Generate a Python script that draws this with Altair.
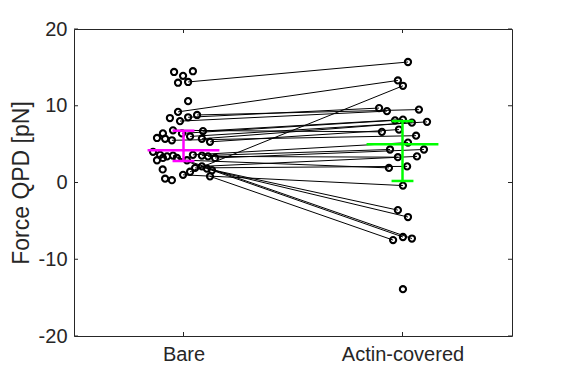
import altair as alt
import pandas as pd

categories = ["Bare", "Actin-covered"]
y_ticks = [-20, -10, 0, 10, 20]
y_title = "Force QPD [pN]"

# jitter offsets (x units) and values, Bare group
bare_dx = [-0.043, -0.002, 0.043, -0.025, 0.021, 0.021, -0.025, -0.062, 0.021, 0.062,
           -0.016, -0.048, -0.094, -0.121, -0.084, -0.007, 0.030, 0.089, 0.121, 0.084,
           -0.053, -0.139, -0.107, -0.075, -0.048, 0.043, 0.084, 0.112, 0.144, -0.121,
           -0.094, -0.030, 0.016, -0.095, 0.053, 0.084, 0.107, 0.130, 0.030, -0.002,
           -0.084, -0.053, 0.121]
bare_y = [14.4, 13.9, 14.5, 13.0, 13.1, 10.6, 9.2, 8.4, 8.5, 8.8,
          8.0, 6.8, 6.4, 5.8, 5.7, 6.4, 6.0, 6.7, 5.3, 5.7,
          5.5, 4.0, 3.6, 3.4, 3.5, 3.6, 3.5, 3.4, 3.2, 2.9,
          3.2, 3.2, 2.9, 1.7, 1.9, 2.1, 1.8, 1.6, 1.4, 1.0,
          0.5, 0.3, 0.8]

# jitter offsets and values, Actin-covered group
actin_dx = [0.025, -0.021, 0.002, -0.107, -0.071, 0.075, -0.034, 0.002, 0.043, 0.112,
            -0.016, -0.094, 0.062, 0.025, -0.057, 0.098, 0.066, -0.021, 0.021, -0.062,
            0.002, -0.021, 0.025, -0.043, 0.002, 0.043, 0.002]
actin_y = [15.7, 13.3, 12.6, 9.7, 9.3, 9.5, 8.1, 8.2, 7.8, 7.9,
           6.9, 6.6, 6.1, 5.2, 4.3, 4.3, 3.4, 3.3, 2.1, 1.9,
           -0.4, -3.6, -4.5, -7.5, -7.1, -7.3, -13.9]

# paired measurements: (bare index, actin index)
pairs = [(4, 0), (6, 1), (38, 2), (9, 5), (8, 3), (10, 4), (17, 7), (15, 6), (16, 9),
         (19, 8), (18, 10), (11, 11), (20, 12), (25, 13), (26, 14), (28, 15), (27, 17),
         (35, 16), (34, 18), (32, 19), (39, 20), (36, 21), (37, 22), (42, 23), (31, 24),
         (24, 25)]

group_mean = [4.2, 5.0]
group_lo = [2.8, 0.2]
group_hi = [6.75, 8.0]
group_color = ["#FF00FF", "#00FF00"]

MEAN_HW = 0.164
CAP_HW = 0.05
TEXT = "#262626"
FONT = "Liberation Sans"

pts = pd.DataFrame({
    "x": [1 + d for d in bare_dx] + [2 + d for d in actin_dx],
    "y": bare_y + actin_y,
})

rows = []
for k, (b, a) in enumerate(pairs):
    rows.append({"pid": k, "ord": 0, "x": 1 + bare_dx[b], "y": bare_y[b]})
    rows.append({"pid": k, "ord": 1, "x": 2 + actin_dx[a], "y": actin_y[a]})
lines_df = pd.DataFrame(rows)

stats = pd.DataFrame({
    "g": [1, 2],
    "xl": [1 - MEAN_HW, 2 - MEAN_HW],
    "xr": [1 + MEAN_HW, 2 + MEAN_HW],
    "cl": [1 - CAP_HW, 2 - CAP_HW],
    "cr": [1 + CAP_HW, 2 + CAP_HW],
    "mean": group_mean,
    "lo": group_lo,
    "hi": group_hi,
    "color": group_color,
})

xs = alt.Scale(domain=[0.5, 2.5], nice=False, zero=False)
ys = alt.Scale(domain=[-20, 20], nice=False, zero=False)
label_expr = f"datum.value == 1 ? '{categories[0]}' : '{categories[1]}'"
xaxis = alt.Axis(values=[1, 2], labelExpr=label_expr, title=None, grid=False,
                 tickSize=0, domain=False, labelPadding=8, labelFontSize=20,
                 labelColor=TEXT, labelFont=FONT)
yaxis = alt.Axis(values=y_ticks, labelExpr="'' + datum.value", title=y_title,
                 grid=False, tickSize=0, domain=False,
                 labelPadding=7, labelFontSize=20, labelColor=TEXT, labelFont=FONT,
                 titleFontSize=23, titleFontWeight="normal", titleColor=TEXT,
                 titleFont=FONT, titlePadding=5)


def X(f):
    return alt.X(f, type="quantitative", scale=xs, axis=xaxis)


def Y(f):
    return alt.Y(f, type="quantitative", scale=ys, axis=yaxis)


lines = alt.Chart(lines_df).mark_line(color="black", strokeWidth=1).encode(
    x=X("x"), y=Y("y"), detail="pid:N", order="ord:Q")

points = alt.Chart(pts).mark_point(shape="circle", filled=False, color="black",
                                   size=38, strokeWidth=2.1, opacity=1).encode(
    x=X("x"), y=Y("y"))

col = alt.Color("color:N", scale=None)
mean_rule = alt.Chart(stats).mark_rule(strokeWidth=2.5).encode(
    x=X("xl"), x2="xr", y=Y("mean"), color=col)
vert_rule = alt.Chart(stats).mark_rule(strokeWidth=2.5).encode(
    x=X("g"), y=Y("lo"), y2="hi", color=col)
cap_lo = alt.Chart(stats).mark_rule(strokeWidth=2.5).encode(
    x=X("cl"), x2="cr", y=Y("lo"), color=col)
cap_hi = alt.Chart(stats).mark_rule(strokeWidth=2.5).encode(
    x=X("cl"), x2="cr", y=Y("hi"), color=col)

W, H = 438, 307
TL = 4
yt = pd.DataFrame({"v": y_ticks})
xt = pd.DataFrame({"v": [1, 2]})
ytick_l = alt.Chart(yt).mark_rule(color=TEXT, strokeWidth=1).encode(
    y=Y("v"), x=alt.value(0), x2=alt.value(TL))
ytick_r = alt.Chart(yt).mark_rule(color=TEXT, strokeWidth=1).encode(
    y=Y("v"), x=alt.value(W - TL), x2=alt.value(W))
xtick_b = alt.Chart(xt).mark_rule(color=TEXT, strokeWidth=1).encode(
    x=X("v"), y=alt.value(H), y2=alt.value(H - TL))
xtick_t = alt.Chart(xt).mark_rule(color=TEXT, strokeWidth=1).encode(
    x=X("v"), y=alt.value(0), y2=alt.value(TL))

chart = alt.layer(
    lines, points, mean_rule, vert_rule, cap_lo, cap_hi,
    ytick_l, ytick_r, xtick_b, xtick_t,
).properties(
    width=W, height=H,
    padding={"left": 66, "top": 21, "right": 47, "bottom": 34},
    autosize=alt.AutoSizeParams(type="none"),
    background="white",
).configure_view(stroke=TEXT, strokeWidth=1)

chart.save("out.html", embed_options={"renderer": "svg", "actions": False})
